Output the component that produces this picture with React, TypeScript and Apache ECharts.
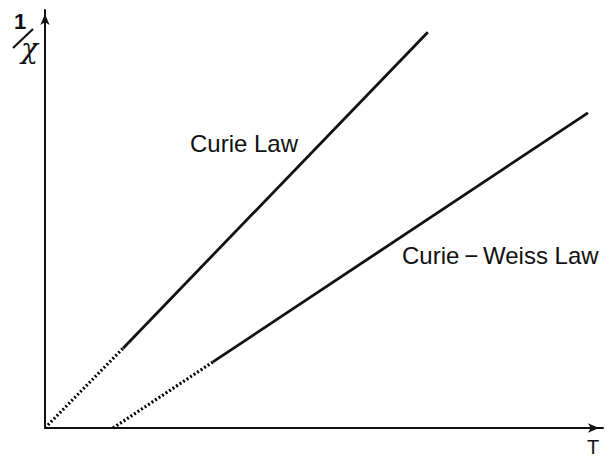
import React, { useEffect, useRef } from "react";
import * as echarts from "echarts";

// Data (arbitrary units: x = temperature T, y = 1/chi)
const curieDotted: [number, number][] = [[0, 0], [14.0, 19.1]];
const curieSolid: [number, number][] = [[14.0, 19.1], [68.6, 94.7]];
const weissDotted: [number, number][] = [[12.2, 0], [30.1, 15.8]];
const weissSolid: [number, number][] = [[30.1, 15.8], [97.3, 75.4]];
const xMax = 100;
const yMax = 100;

export default function App() {
  const ref = useRef<HTMLDivElement>(null);
  useEffect(() => {
    if (!ref.current) return;
    const chart = echarts.init(ref.current, undefined, { renderer: "svg" });
    const fam = "Liberation Sans, Arial, Helvetica, sans-serif";
    const solid = { color: "#111", width: 2.8, type: "solid" as const };
    const dotted = { color: "#000", width: 3.2, type: [2, 2.2] as any, cap: "butt" as const };
    chart.setOption({
      animation: false,
      backgroundColor: "#fff",
      grid: { left: 45, right: 7, top: 10, bottom: 29 },
      xAxis: {
        type: "value",
        min: 0,
        max: xMax,
        axisLine: { show: true, lineStyle: { color: "#111", width: 2 }, symbol: ["none", "arrow"], symbolSize: [7, 11], symbolOffset: [0, -4] },
        axisTick: { show: false },
        axisLabel: { show: false },
        splitLine: { show: false },
      },
      yAxis: {
        type: "value",
        min: 0,
        max: yMax,
        axisLine: { show: true, lineStyle: { color: "#111", width: 2 }, symbol: ["none", "arrow"], symbolSize: [7, 11], symbolOffset: [0, -4] },
        axisTick: { show: false },
        axisLabel: { show: false },
        splitLine: { show: false },
      },
      series: [
        { type: "line", data: curieDotted, showSymbol: false, lineStyle: dotted },
        { type: "line", data: curieSolid, showSymbol: false, lineStyle: solid },
        { type: "line", data: weissDotted, showSymbol: false, lineStyle: dotted },
        { type: "line", data: weissSolid, showSymbol: false, lineStyle: solid },
      ],
      graphic: [
        { type: "text", left: 190, top: 131, style: { text: "Curie Law", fontSize: 24, fontFamily: fam, fill: "#111" } },
        { type: "text", left: 402, top: 243, style: { text: "Curie\u2009\u2212\u2009Weiss Law", fontSize: 24, fontFamily: fam, fill: "#111" } },
        { type: "text", left: 587, top: 437, style: { text: "T", fontSize: 20, fontFamily: fam, fill: "#111" } },
        { type: "text", left: 14, top: 10, style: { text: "1", fontSize: 22, fontWeight: "bold", fontFamily: fam, fill: "#111" } },
        { type: "line", shape: { x1: 13, y1: 48, x2: 33, y2: 29 }, style: { stroke: "#111", lineWidth: 2.2 } },
        { type: "text", left: 21, top: 34, style: { text: "\u03c7", fontSize: 28, fontStyle: "italic", fontFamily: "DejaVu Serif, serif", fill: "#111" } },
      ],
    });
    return () => chart.dispose();
  }, []);
  return <div ref={ref} style={{ position: "fixed", left: 0, top: 0, width: 610, height: 457 }} />;
}
